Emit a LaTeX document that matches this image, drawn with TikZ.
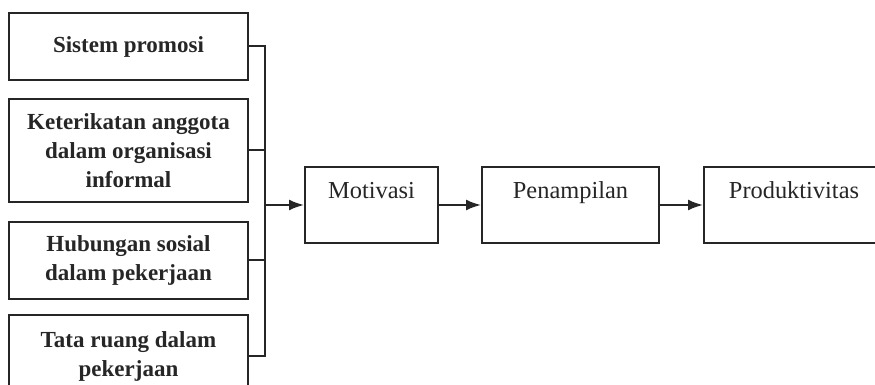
\documentclass[tikz,border=0pt]{standalone}
\usepackage{fontspec}
\setmainfont{Liberation Serif}
\usetikzlibrary{positioning, arrows.meta}

\begin{document}
\begin{tikzpicture}[x=0.5pt, y=-0.5pt,
  factor/.style={rectangle, draw=black!85, line width=1pt, minimum width=119.5pt, align=center, inner sep=0pt, text=black!85, font=\fontsize{11.5}{14.5}\selectfont\bfseries},
  stage/.style={rectangle, draw=black!85, line width=1pt, text height=16pt, text depth=22pt, inner sep=0pt, text=black!85, font=\fontsize{12.2}{14.5}\selectfont},
  link/.style={draw=black!85, line width=1pt},
  flow/.style={link, -{Latex[length=7.5pt, width=5.5pt]}},
  node distance=8.5pt]

\useasboundingbox (0,0) rectangle (875,385);

% Factors
\node[factor, minimum height=33.5pt] (promosi) at (128.5,46.5) {Sistem promosi};
\node[factor, minimum height=51.5pt, below=of promosi] (keterikatan) {Keterikatan anggota\\dalam organisasi\\informal};
\node[factor, minimum height=38.5pt, below=9pt of keterikatan] (hubungan) {Hubungan sosial\\dalam pekerjaan};
\node[factor, minimum height=41.5pt, below=7pt of hubungan] (tataruang) {Tata ruang dalam\\pekerjaan};

% Stages
\node[stage, minimum width=66.5pt] (motivasi) at (371.5,205) {Motivasi};
\node[stage, minimum width=88.5pt, right=21pt of motivasi] (penampilan) {Penampilan};
\node[stage, minimum width=90pt, right=21.5pt of penampilan] (produktivitas) {Produktivitas};

% Joining line from the factors
\coordinate (bus) at (265,205);
\foreach \f in {promosi, keterikatan, hubungan, tataruang}
  \draw[link] (\f.east) -| (bus);

% Arrows between the stages
\draw[flow] (bus) -- (motivasi);
\draw[flow] (motivasi) -- (penampilan);
\draw[flow] (penampilan) -- (produktivitas);

\end{tikzpicture}
\end{document}
